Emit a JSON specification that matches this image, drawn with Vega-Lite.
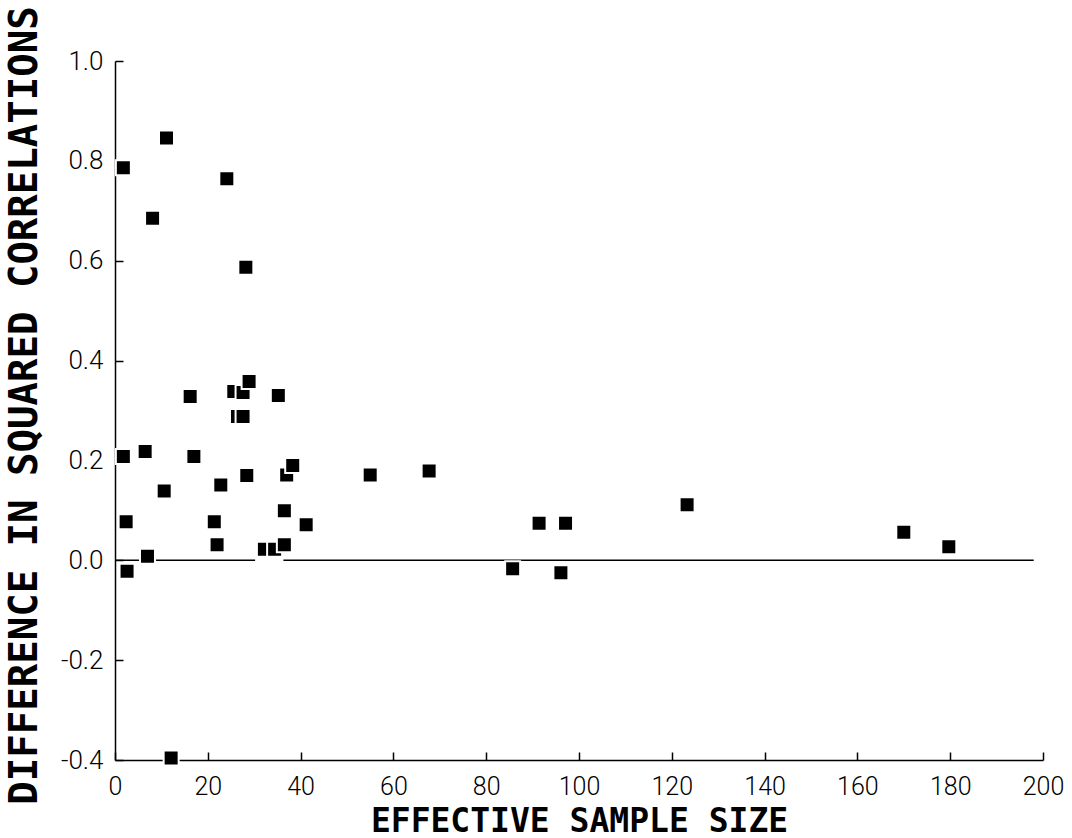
{
  "$schema": "https://vega.github.io/schema/vega-lite/v6.json",
  "width": 928,
  "height": 699,
  "autosize": "none",
  "padding": {"left": 115, "top": 61, "right": 29, "bottom": 78},
  "background": "white",
  "config": {
    "view": {"stroke": null},
    "axis": {
      "grid": false,
      "domainColor": "black",
      "domainWidth": 1.5,
      "tickColor": "black",
      "tickWidth": 1.5,
      "tickSize": -8,
      "labelColor": "black",
      "labelFont": "Roboto",
      "labelFontWeight": 300,
      "labelFontSize": 26,
      "labelFlush": false,
      "labelOverlap": false,
      "titleColor": "black",
      "titleFont": "DejaVu Sans Mono",
      "titleFontWeight": "bold"
    }
  },
  "layer": [
    {
      "data": {"values": [
        {"n": 0, "n2": 30.2, "d": 0},
        {"n": 36.3, "n2": 198, "d": 0}
      ]},
      "mark": {"type": "rule", "color": "black", "strokeWidth": 1.5},
      "encoding": {
        "x": {
          "field": "n", "type": "quantitative",
          "scale": {"domain": [0, 200], "nice": false, "zero": false},
          "axis": {
            "title": "EFFECTIVE SAMPLE SIZE",
            "values": [0, 20, 40, 60, 80, 100, 120, 140, 160, 180, 200],
            "labelFontSize": 25,
            "labelBaseline": "alphabetic",
            "labelPadding": 42,
            "titleFontSize": 33,
            "titleX": 464,
            "titleY": 78,
            "titleAlign": "center",
            "titleBaseline": "bottom"
          }
        },
        "x2": {"field": "n2"},
        "y": {
          "field": "d", "type": "quantitative",
          "scale": {"domain": [-0.4, 1.0], "nice": false, "zero": false},
          "axis": {
            "title": "DIFFERENCE IN SQUARED CORRELATIONS",
            "values": [-0.4, -0.2, 0, 0.2, 0.4, 0.6, 0.8, 1.0],
            "labelExpr": "replace(format(datum.value, '.1f'), '\u2212', '-')",
            "labelPadding": 20,
            "titleFontSize": 39,
            "titleAngle": 270,
            "titleX": -91,
            "titleY": 344,
            "titleAlign": "center",
            "titleBaseline": "middle"
          }
        }
      }
    },
    {
      "data": {"values": [
        {"n": 1.8, "d": 0.786},
        {"n": 11.1, "d": 0.846},
        {"n": 8.1, "d": 0.685},
        {"n": 24.1, "d": 0.764},
        {"n": 28.2, "d": 0.587},
        {"n": 16.2, "d": 0.328},
        {"n": 25.6, "d": 0.338},
        {"n": 27.6, "d": 0.336},
        {"n": 28.9, "d": 0.358},
        {"n": 35.2, "d": 0.330},
        {"n": 26.4, "d": 0.288},
        {"n": 27.6, "d": 0.288},
        {"n": 1.8, "d": 0.208},
        {"n": 6.5, "d": 0.218},
        {"n": 17.0, "d": 0.208},
        {"n": 37.0, "d": 0.171},
        {"n": 38.3, "d": 0.190},
        {"n": 28.4, "d": 0.170},
        {"n": 22.8, "d": 0.151},
        {"n": 10.6, "d": 0.139},
        {"n": 36.5, "d": 0.099},
        {"n": 2.4, "d": 0.077},
        {"n": 21.4, "d": 0.077},
        {"n": 41.2, "d": 0.071},
        {"n": 22.0, "d": 0.031},
        {"n": 32.2, "d": 0.022},
        {"n": 34.4, "d": 0.022},
        {"n": 36.5, "d": 0.031},
        {"n": 7.0, "d": 0.008},
        {"n": 2.6, "d": -0.022},
        {"n": 12.1, "d": -0.396},
        {"n": 55.0, "d": 0.171},
        {"n": 67.7, "d": 0.179},
        {"n": 91.4, "d": 0.074},
        {"n": 97.1, "d": 0.074},
        {"n": 85.7, "d": -0.017},
        {"n": 96.1, "d": -0.025},
        {"n": 123.3, "d": 0.111},
        {"n": 170.0, "d": 0.056},
        {"n": 179.7, "d": 0.027}
      ]},
      "mark": {
        "type": "point",
        "shape": "square",
        "filled": true,
        "color": "black",
        "stroke": "white",
        "strokeWidth": 2,
        "size": 225,
        "opacity": 1
      },
      "encoding": {
        "x": {"field": "n", "type": "quantitative"},
        "y": {"field": "d", "type": "quantitative"}
      }
    }
  ]
}
